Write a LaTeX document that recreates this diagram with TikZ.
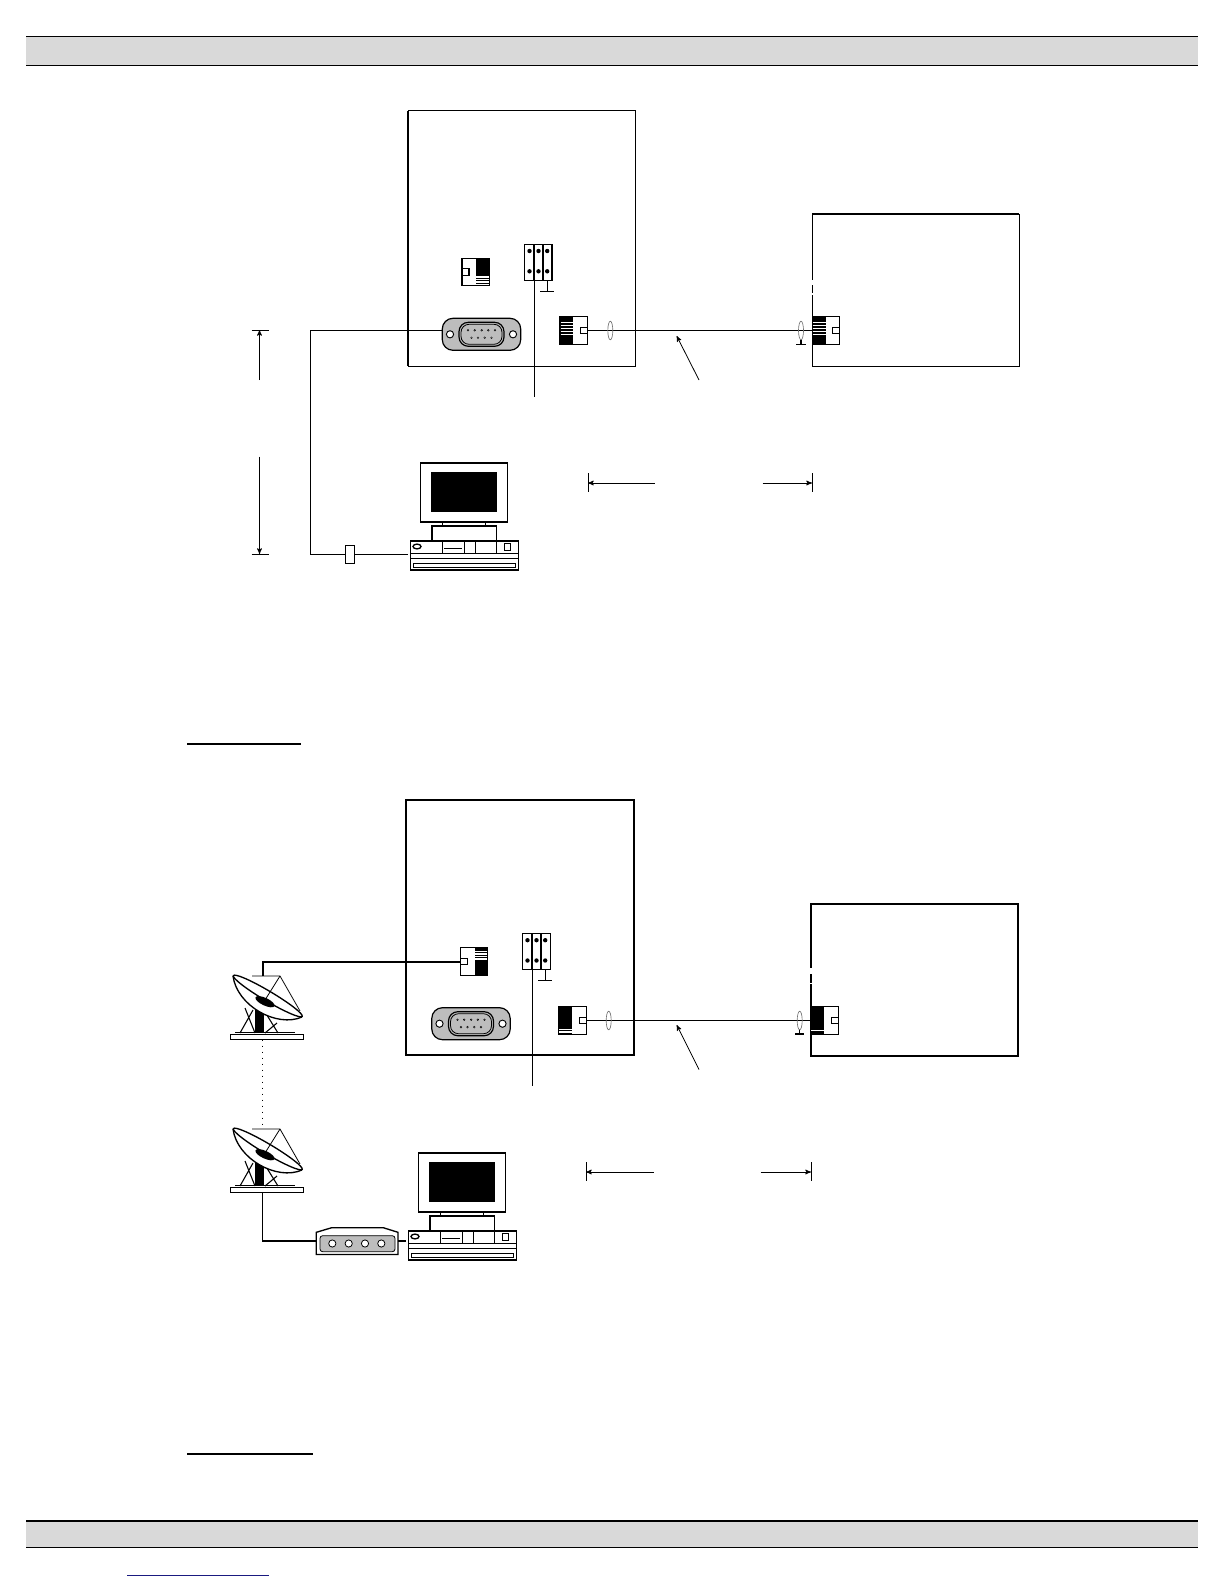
\documentclass[tikz,border=0pt]{standalone}
\usetikzlibrary{arrows}
\definecolor{bargray}{HTML}{D9D9D9}
\definecolor{portgray}{HTML}{BDBDBD}
\definecolor{linkblue}{HTML}{1A1A80}
\tikzset{
  panel/.style={draw,line width=.75pt,inner sep=0pt,outer sep=0pt,fill=white},
  panelbold/.style={panel,line width=1.4pt},
  plugbox/.style={draw,line width=.8pt,inner sep=0pt,outer sep=0pt,minimum width=7pt,minimum height=14pt,fill=white},
  wire/.style={line width=.8pt},
  wirebold/.style={line width=1.5pt},
  ring/.style={draw=black!55,line width=.5pt},
  pointer/.style={line width=.6pt,-stealth'},
  pics/jack/.style={code={
    \draw[line width=1pt,fill=white] (-13.8,-13.8) rectangle (13.8,13.8);
    \fill (-13.8,-13.8) rectangle (-.5,13.8);
    \foreach \s in {#1}
      \draw[white,line width=.9pt] (-13.3,\s) -- (-.5,\s);
    \draw[line width=1pt,fill=white] (6.8,-3.3) rectangle (13.8,3.3);
    \coordinate (-port) at (13.8,0);
    \coordinate (-west) at (-13.8,0);
  }},
  pics/earth/.style 2 args={code={
    \draw[line width=.8pt] (0,0) -- (0,#1);
    \draw[line width=.8pt] (-#2,#1) -- (#2,#1);
  }},
  pics/block/.style={code={
    \draw[line width=1.2pt] (0,0) rectangle (18.4,36);
    \draw[line width=1.2pt] (9.4,0) -- (9.4,36);
    \draw[line width=#1] (18.4,0) rectangle (27.5,36);
    \foreach \x in {5,14,22.7} {
      \fill (\x,6.7) circle [radius=2.2];
      \fill (\x,27) circle [radius=2.2];
    }
    \pic at (22.7,36) {earth={11}{7}};
    \coordinate (-down) at (10,36);
  }},
  pics/dsub/.style={code={
    \draw[fill=portgray,line width=.9pt,rounded corners=8] (-39.2,-16) rectangle (39.2,16);
    \fill[white] (-31.5,0) circle [radius=3.6];
    \fill[white] (31.5,0) circle [radius=3.6];
    \draw[line width=.7pt] (-31.5,0) circle [radius=3.6];
    \draw[line width=.7pt] (31.5,0) circle [radius=3.6];
    \draw[line width=.9pt,rounded corners=7] (-22.5,-12) rectangle (22.5,12);
    \draw[line width=.6pt,rounded corners=6] (-20.5,-10) rectangle (20.5,10);
    \foreach \x in {-13.5,-6.8,.2,6.8,13.5}
      \draw[line width=.3pt,fill=black!45] (\x,-4) circle [radius=.9];
    \foreach \x in {-10,-3.5,3.2,10}
      \draw[line width=.3pt,fill=white] (\x,3.4) circle [radius=.9];
    \coordinate (-west) at (-39.2,-3.8);
  }},
  pics/pcset/.style={code={
    \draw[line width=1.2pt,fill=white] (10,-77.3) rectangle (97,-18.3);
    \fill (20.7,-68) rectangle (86.7,-28);
    \draw[line width=.8pt] (32,-18.3) -- (32,-14.5) (75.4,-18.3) -- (75.4,-14.5);
    \draw[line width=1.2pt] (21.4,1) -- (21.4,-14.3) -- (86,-14.3) -- (86,1);
    \draw[line width=1.2pt,fill=white] (0,1) rectangle (108,30);
    \draw[line width=.8pt] (0,13.5) -- (108,13.5);
    \draw[line width=.8pt] (0,18.5) -- (108,18.5);
    \draw[line width=.8pt] (3,23.3) rectangle (105.4,27.7);
    \draw[line width=1pt] (6.7,6.5) ellipse [x radius=4,y radius=2.4];
    \foreach \x in {32.4,54.4,65,86.4}
      \draw[line width=.6pt] (\x,1) -- (\x,13.5);
    \draw[line width=.7pt] (33.7,8.5) -- (51.7,8.5);
    \draw[line width=.8pt] (94,3.5) rectangle (100.4,10.5);
    \coordinate (-west) at (-2,14.5);
  }},
  pics/dish/.style={code={
    \fill (-7,10) rectangle (2,32.7);
    \draw[line width=.8pt] (-22,33) -- (-9,10) (-17,8) -- (-7,33);
    \draw[line width=.8pt] (3,12) -- (16,33) (15,23) -- (3,33);
    \draw[line width=.6pt] (-27,32.7) -- (33,32.7);
    \draw[line width=1pt,fill=white] (-31.3,34.3) rectangle (41.3,39.7);
    \draw[line width=.6pt] (-10,-24) -- (18,-24) -- (38,11);
    \draw[line width=1pt,fill=white] (-29,-24) .. controls (-25,6) and (15,28) .. (40,17);
    \draw[line width=1pt,fill=white] (5.8,-4) circle [x radius=40,y radius=5,rotate=-30.7];
    \draw[line width=.6pt] (18,-24) -- (3,0);
    \fill (3,1.7) circle [x radius=10.5,y radius=3.8,rotate=-25];
    \coordinate (-top) at (.5,-24);
    \coordinate (-bot) at (.5,39.7);
  }},
  pics/modem/.style={code={
    \draw[line width=1pt,fill=white] (0,0) -- (0,-8.7) -- (15.4,-13.3) -- (67,-13.3) -- (81.7,-8.7) -- (81.7,13.5) -- (0,13.5) -- cycle;
    \draw[line width=.6pt,fill=portgray,rounded corners=2] (3.7,-5.3) rectangle (78.7,10.7);
    \foreach \x in {16,32.4,48.7,65}
      \draw[line width=.6pt,fill=white] (\x,2.5) circle [radius=3.6];
    \coordinate (-west) at (0,0);
    \coordinate (-east) at (81.7,0);
  }}
}
\begin{document}
\begin{tikzpicture}[x=.75pt,y=-.75pt]
\useasboundingbox (0,0) rectangle (1224,1584);
\fill[bargray] (26,36.5) rectangle (1198,65.5);
\draw[line width=.6pt] (26,36.5) -- (1198,36.5);
\draw[line width=.8pt] (26,65.5) -- (1198,65.5);
\fill[bargray] (26,1520.5) rectangle (1198,1547);
\draw[line width=1.5pt] (26,1520.5) -- (1198,1520.5);
\draw[line width=1pt] (26,1547.5) -- (1198,1547.5);
\draw[linkblue,line width=.8pt] (127,1575.3) -- (268.7,1575.3);
\draw[line width=1.1pt] (187,744) -- (301,744);
\draw[line width=1.1pt] (187,1454) -- (313,1454);

\node[panel,minimum width=170.25pt,minimum height=191.5pt] (maina) at (521.5,238.5) {};
\draw[line width=1.5pt] (maina.north west) -- (maina.south west);
\node[panel,minimum width=155.25pt,minimum height=114pt] (sidea) at (915.5,290) {};
\draw[line width=1.4pt] (sidea.north west) -- (sidea.north east);
\draw[white,line width=1.5pt] (812.3,280) -- (812.3,285) (812.3,293) -- (812.3,295);
\pic[xscale=-1] (jacka) at (475.7,272) {jack={5,7.5,10,12.5}};
\pic (blocka) at (524.5,244.3) {block=1.2pt};
\pic (sera) at (481.5,334.3) {dsub};
\pic (jackb) at (573.8,330.5) {jack={-8,-5,-2,1,4}};
\pic (jackc) at (826,330.5) {jack={-8,-5,-2,1,4}};
\pic (pca) at (410.3,540) {pcset};
\node[plugbox] (pluga) at (350,554.5) {};
\coordinate (benda) at (310.5,330.5);
\coordinate (bendb) at (310.5,554.5);
\coordinate (tapa) at (534.5,397.3);
\draw[wire] (sera-west) -- (benda) -- (bendb) -- (pluga);
\draw[wire] (pluga) -- (pca-west);
\draw[wire] (blocka-down) -- (tapa);
\draw[wire] (jackb-port) -- (jackc-west);
\draw[ring] (610.3,330.5) ellipse [x radius=2.5,y radius=9.3];
\draw[ring] (801,330.5) ellipse [x radius=2.5,y radius=9.3];
\pic at (801,339.7) {earth={5}{4.7}};

\coordinate (tickup) at (259.5,330);
\coordinate (ticklow) at (259.5,554);
\coordinate (tailup) at (259.5,380);
\coordinate (taillow) at (259.5,456.5);
\draw[pointer] (tailup) -- (tickup);
\draw[pointer] (taillow) -- (ticklow);
\draw[line width=.6pt] (251.5,330) -- (268.5,330);
\draw[line width=.6pt] (251.5,554) -- (268.5,554);
\coordinate (spanl) at (588,483);
\coordinate (spanr) at (812,483);
\coordinate (taill) at (654.5,483);
\coordinate (tailr) at (762.5,483);
\draw[pointer] (taill) -- (spanl);
\draw[pointer] (tailr) -- (spanr);
\draw[line width=.6pt] (588,473) -- (588,492);
\draw[line width=.6pt] (812,473) -- (812,492);
\coordinate (notea) at (699,380);
\coordinate (cablea) at (676.7,336);
\draw[pointer] (notea) -- (cablea);

\node[panelbold,minimum width=171pt,minimum height=191.5pt] (mainb) at (520,927.5) {};
\node[panelbold,minimum width=155.25pt,minimum height=114pt] (sideb) at (914.5,980) {};
\draw[white,line width=2pt] (811,968.3) -- (811,974) (811,982.7) -- (811,984);
\pic[xscale=-1] (jackd) at (474,961.5) {jack={-10,-7.5,-5,-2.5}};
\pic (blockb) at (522.5,933.5) {block=.7pt};
\pic (serb) at (471,1023.7) {dsub};
\pic (jacke) at (572.5,1020.5) {jack={9,11.5}};
\pic (jackf) at (824.6,1020.5) {jack={10}};
\pic (pcb) at (408.3,1230) {pcset};
\pic (disha) at (262,1000) {dish};
\pic (dishb) at (262,1153) {dish};
\pic (modem) at (316.3,1241) {modem};
\coordinate (bendc) at (262.5,961.5);
\coordinate (bendd) at (262.5,1241);
\coordinate (tapb) at (532.5,1086);
\draw[wirebold] (disha-top) -- (bendc) -- (jackd-port);
\draw[wire,dash pattern=on 1.2pt off 3.3pt] (disha-bot) -- (dishb-top);
\draw[wire] (dishb-bot) -- (bendd) -- (modem-west);
\draw[wire] (modem-east) -- (modem-east -| pcb-west);
\draw[wire] (blockb-down) -- (tapb);
\draw[wire] (jacke-port) -- (jackf-west);
\draw[ring] (608.7,1020.5) ellipse [x radius=2.5,y radius=9.3];
\draw[ring] (799.7,1020.5) ellipse [x radius=2.5,y radius=9.3];
\pic at (799.7,1029.5) {earth={4.5}{4.7}};

\coordinate (spanlb) at (586,1172);
\coordinate (spanrb) at (811,1172);
\coordinate (taillb) at (653.5,1172);
\coordinate (tailrb) at (760.5,1172);
\draw[pointer] (taillb) -- (spanlb);
\draw[pointer] (tailrb) -- (spanrb);
\draw[line width=.6pt] (586,1162) -- (586,1181);
\draw[line width=.6pt] (811,1162) -- (811,1181);
\coordinate (noteb) at (699,1069.6);
\coordinate (cableb) at (676.7,1025);
\draw[pointer] (noteb) -- (cableb);
\end{tikzpicture}
\end{document}
